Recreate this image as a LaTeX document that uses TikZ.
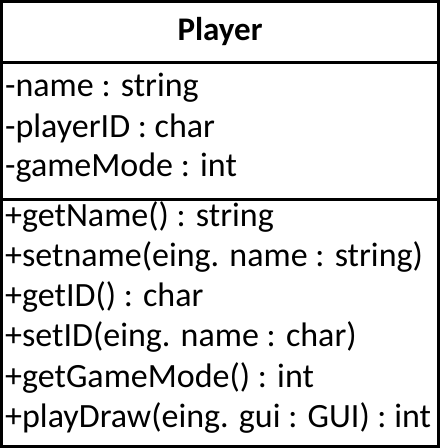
\documentclass[tikz,border=0pt]{standalone}
\usepackage{fontspec}
\setmainfont{Carlito}
\begin{document}
\begin{tikzpicture}[x=1pt,y=-1pt,
  txt/.style={anchor=west,inner sep=0pt,font=\fontsize{34}{40}\selectfont},
  ttl/.style={inner sep=0pt,font=\fontsize{33}{40}\selectfont\bfseries},
  frame/.style={draw=black,line width=3pt}]
\useasboundingbox (0,0) rectangle (440,448);
\fill[white] (0,0) rectangle (440,448);
\draw[frame] (1.5,1.5) rectangle (438.5,446.5);
\draw[frame] (1.5,62) -- (438.5,62);
\draw[frame] (1.5,199) -- (438.5,199);
\node[ttl] (title) at (220,32) {Player};
\node[txt] (a1) at (5,88) {-name : string};
\node[txt] (a2) at (5,128) {-playerID : char};
\node[txt] (a3) at (5,168) {-gameMode : int};
\node[txt] (m1) at (5,217) {+getName() : string};
\node[txt] (m2) at (5,257) {+setname(eing. name : string)};
\node[txt] (m3) at (5,297) {+getID() : char};
\node[txt] (m4) at (5,337) {+setID(eing. name : char)};
\node[txt] (m5) at (5,378) {+getGameMode() : int};
\node[txt] (m6) at (5,418) {+playDraw(eing. gui : GUI) : int};
\end{tikzpicture}
\end{document}
